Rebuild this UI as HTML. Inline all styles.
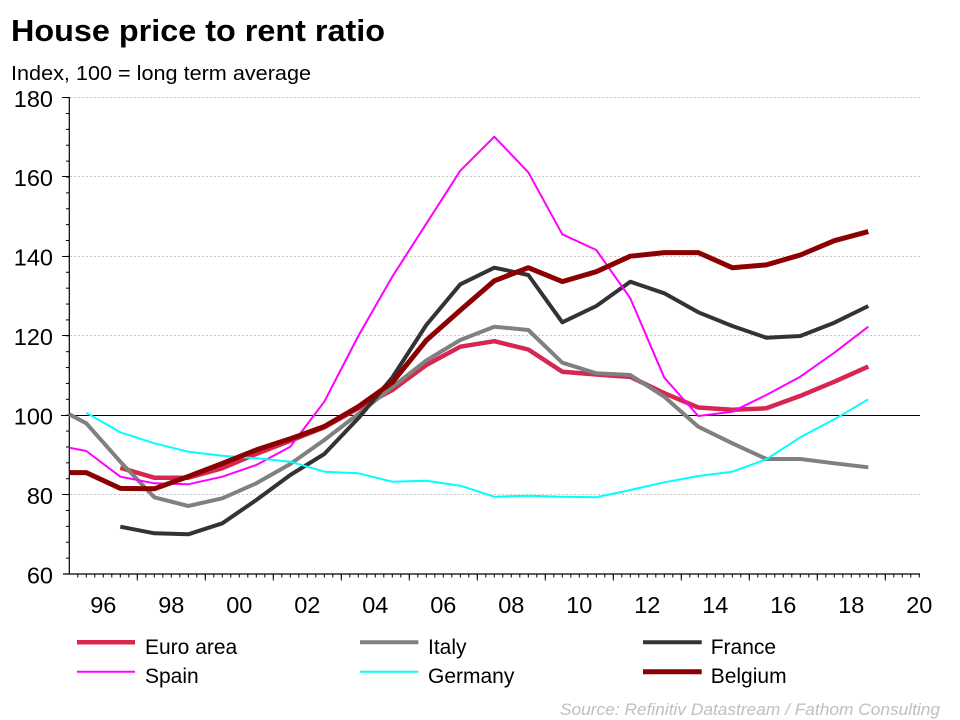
<!DOCTYPE html>
<html>
<head>
<meta charset="utf-8">
<style>
html,body{margin:0;padding:0;background:#fff;}
svg{display:block;}
text{font-family:"Liberation Sans", sans-serif;}
</style>
</head>
<body>
<svg width="960" height="720" viewBox="0 0 960 720" xmlns="http://www.w3.org/2000/svg">
<defs>
<pattern id="xmin" x="68.8" y="574" width="8.5" height="10" patternUnits="userSpaceOnUse">
<rect x="0" y="0" width="1" height="3.5" fill="#000"/>
</pattern>
<pattern id="xmaj" x="68.8" y="574" width="68" height="10" patternUnits="userSpaceOnUse">
<rect x="0" y="0" width="1" height="6.5" fill="#000"/>
</pattern>
<pattern id="ymin" x="0" y="573.5" width="10" height="15.88" patternUnits="userSpaceOnUse">
<rect x="0" y="0" width="10" height="1" fill="#000"/>
</pattern>
</defs>
<rect width="960" height="720" fill="#fff"/>

<!-- Title -->
<text x="11" y="41" font-size="31" font-weight="bold" fill="#000" textLength="374" lengthAdjust="spacingAndGlyphs">House price to rent ratio</text>
<text x="11" y="80" font-size="20" fill="#000" textLength="300" lengthAdjust="spacingAndGlyphs">Index, 100 = long term average</text>

<!-- Gridlines -->
<g stroke="#c8c8c8" stroke-width="1" stroke-dasharray="2,2">
<line x1="62" y1="97.5" x2="920" y2="97.5"/>
<line x1="62" y1="176.5" x2="920" y2="176.5"/>
<line x1="62" y1="256.5" x2="920" y2="256.5"/>
<line x1="62" y1="335.5" x2="920" y2="335.5"/>
<line x1="62" y1="494.5" x2="920" y2="494.5"/>
</g>
<line x1="61" y1="415.5" x2="920" y2="415.5" stroke="#000" stroke-width="1"/>

<!-- Axes -->
<line x1="69.3" y1="97" x2="69.3" y2="574.5" stroke="#000" stroke-width="1.2"/>
<line x1="63" y1="574" x2="920" y2="574" stroke="#000" stroke-width="1.2"/>
<rect x="66" y="97" width="3.3" height="478" fill="url(#ymin)"/>
<g stroke="#000" stroke-width="1">
<line x1="62" y1="97.5" x2="69" y2="97.5"/>
<line x1="62" y1="176.5" x2="69" y2="176.5"/>
<line x1="62" y1="256.5" x2="69" y2="256.5"/>
<line x1="62" y1="335.5" x2="69" y2="335.5"/>
<line x1="62" y1="494.5" x2="69" y2="494.5"/>
</g>
<rect x="73" y="574" width="848" height="3.5" fill="url(#xmin)"/>
<rect x="73" y="574" width="848" height="6.5" fill="url(#xmaj)"/>

<!-- Y labels -->
<g font-size="23.5" fill="#000" text-anchor="end">
<text x="53" y="106.8">180</text>
<text x="53" y="186.2">160</text>
<text x="53" y="265.7">140</text>
<text x="53" y="345.2">120</text>
<text x="53" y="424.6">100</text>
<text x="53" y="504">80</text>
<text x="53" y="583.4">60</text>
</g>

<!-- X labels -->
<g font-size="23.5" fill="#000" text-anchor="middle">
<text x="103.3" y="613">96</text>
<text x="171.3" y="613">98</text>
<text x="239.3" y="613">00</text>
<text x="307.3" y="613">02</text>
<text x="375.3" y="613">04</text>
<text x="443.3" y="613">06</text>
<text x="511.3" y="613">08</text>
<text x="579.3" y="613">10</text>
<text x="647.3" y="613">12</text>
<text x="715.3" y="613">14</text>
<text x="783.3" y="613">16</text>
<text x="851.3" y="613">18</text>
<text x="919.3" y="613">20</text>
</g>

<!-- Series -->
<g fill="none" stroke-linejoin="round" stroke-linecap="butt">
<!-- Euro area -->
<polyline stroke="#D7264F" stroke-width="4.5" points="120.3,467.8 154.3,477.7 188.3,477.7 222.3,468.2 256.3,453.9 290.3,440.8 324.3,427.3 358.3,408.3 392.3,390 426.3,365 460.3,346.7 494.3,341.2 528.3,349.5 562.3,371.7 596.3,374.5 630.3,376.9 664.3,393.2 698.3,407.5 732.3,409.8 766.3,408.3 800.3,395.9 834.3,381.7 868.3,366.6"/>
<!-- Italy -->
<polyline stroke="#808080" stroke-width="4" points="69.3,414.3 86.3,423.3 120.3,461.7 154.3,497.3 188.3,506 222.3,498.3 256.3,483.3 290.3,464 324.3,440 358.3,414 392.3,387 426.3,360.5 460.3,340 494.3,326.7 528.3,330 562.3,362.7 596.3,373.3 630.3,375 664.3,396.7 698.3,426.7 732.3,443.3 766.3,459 800.3,459 834.3,463.3 868.3,467.3"/>
<!-- France -->
<polyline stroke="#333333" stroke-width="4" points="120.3,526.7 154.3,533.3 188.3,534.3 222.3,523.3 256.3,500 290.3,475 324.3,454 358.3,418.3 392.3,377.5 426.3,325 460.3,284.3 494.3,267.7 528.3,275 562.3,322.3 596.3,306 630.3,281.7 664.3,293.3 698.3,312.3 732.3,326 766.3,337.7 800.3,336 834.3,322.7 868.3,306"/>
<!-- Spain -->
<polyline stroke="#FF00FF" stroke-width="2" points="69.3,447.7 86.3,451 120.3,476.7 154.3,483.3 188.3,484.3 222.3,476.7 256.3,465 290.3,446.7 324.3,401.7 358.3,336 392.3,276.7 426.3,223.7 460.3,170.7 494.3,136.7 528.3,172.3 562.3,234.3 596.3,250 630.3,298.3 664.3,377.7 698.3,416 732.3,411.7 766.3,395 800.3,376.7 834.3,352.7 868.3,326.7"/>
<!-- Germany -->
<polyline stroke="#00FFFF" stroke-width="2" points="86.3,412.7 120.3,432.3 154.3,443.3 188.3,451.7 222.3,455.7 256.3,458.3 290.3,461.7 324.3,471.7 358.3,473.3 392.3,481.7 426.3,480.7 460.3,485.7 494.3,496.7 528.3,495.7 562.3,496.7 596.3,497.2 630.3,490 664.3,482.3 698.3,476 732.3,471.7 766.3,459.3 800.3,437.3 834.3,419.3 868.3,399.3"/>
<!-- Belgium -->
<polyline stroke="#8B0000" stroke-width="5" points="69.3,472.6 86.3,472.6 120.3,488.4 154.3,488.8 188.3,476.5 222.3,463.4 256.3,449.9 290.3,438.8 324.3,426.5 358.3,406.7 392.3,382.4 426.3,340.4 460.3,310.2 494.3,280.8 528.3,267.7 562.3,281.6 596.3,271.7 630.3,256.2 664.3,252.6 698.3,252.6 732.3,267.7 766.3,264.9 800.3,255 834.3,240.7 868.3,231.6"/>
</g>

<!-- Legend -->
<g>
<line x1="77" y1="642.3" x2="135" y2="642.3" stroke="#D7264F" stroke-width="4.5"/>
<line x1="77" y1="671.7" x2="135" y2="671.7" stroke="#FF00FF" stroke-width="2"/>
<line x1="360" y1="642.3" x2="418.3" y2="642.3" stroke="#808080" stroke-width="4"/>
<line x1="360" y1="671.7" x2="418.3" y2="671.7" stroke="#00FFFF" stroke-width="2"/>
<line x1="643" y1="642.3" x2="701.7" y2="642.3" stroke="#333333" stroke-width="4"/>
<line x1="643" y1="671.7" x2="701.7" y2="671.7" stroke="#8B0000" stroke-width="5"/>
</g>
<g font-size="21" fill="#000">
<text x="145" y="654">Euro area</text>
<text x="145" y="683">Spain</text>
<text x="428" y="654">Italy</text>
<text x="428" y="683">Germany</text>
<text x="710.7" y="654">France</text>
<text x="710.7" y="683">Belgium</text>
</g>

<!-- Source -->
<text x="560" y="715" font-size="16.5" font-style="italic" fill="#BFBFBF" textLength="380" lengthAdjust="spacingAndGlyphs">Source: Refinitiv Datastream / Fathom Consulting</text>
</svg>
</body>
</html>
